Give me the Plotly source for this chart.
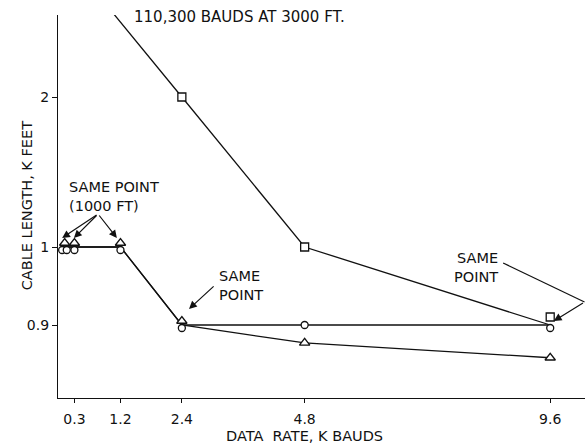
import numpy as np
import plotly.graph_objects as go

# ---------------- data ----------------
RATE_TICKS = [0.3, 1.2, 2.4, 4.8, 9.6]
RATE_TICK_TEXT = ["0.3", "1.2", "2.4", "4.8", "9.6"]
LEN_TICKS = [0.9, 1.0, 2.0]
LEN_TICK_TEXT = ["0.9", "1", "2"]

# square series (110, 300 bauds at 3000 ft, off the top of the chart)
sq_rate = [0.11, 0.3, 2.4, 4.8, 9.6]
sq_len = [3.0, 3.0, 2.0, 1.0, 0.9]
# circle series
ci_rate = [0.06, 0.15, 0.3, 1.2, 2.4, 4.8, 9.6]
ci_len = [1.0, 1.0, 1.0, 1.0, 0.9, 0.9, 0.9]
# triangle series
tr_rate = [0.11, 0.3, 1.2, 2.4, 4.8, 9.6]
tr_len = [1.0, 1.0, 1.0, 0.9, 0.877, 0.858]

# the chart's non-uniform cable-length scale (value -> axis position)
SCALE_VAL = [0.8, 0.9, 1.0, 2.0, 3.0]
SCALE_POS = [-5, 73, 151, 301, 432]


def ys(v):
    return np.interp(np.asarray(v, dtype=float), SCALE_VAL, SCALE_POS)


series = {
    "sq": (sq_rate, sq_len, "square", 8, 8),
    "ci": (ci_rate, ci_len, "circle", 7, -3),
    "tr": (tr_rate, tr_len, "triangle-up", 9, 4),
}


def coincident(key, x, y):
    for k, (xr, yr, *_rest) in series.items():
        if k == key:
            continue
        for xx, yy in zip(xr, yr):
            if abs(xx - x) <= 0.2 and abs(yy - y) < 1e-9:
                return True
    return False


fig = go.Figure()
BLACK = "#111111"
for key, (xr, yr, sym, size, off) in series.items():
    fig.add_trace(go.Scatter(x=xr, y=ys(yr), mode="lines",
                             line=dict(color=BLACK, width=1.3),
                             hoverinfo="skip", showlegend=False))
for key, (xr, yr, sym, size, off) in series.items():
    shifted = [ys(y) + (off if coincident(key, x, y) else 0) for x, y in zip(xr, yr)]
    fig.add_trace(go.Scatter(x=xr, y=shifted, mode="markers",
                             marker=dict(symbol=sym, size=size, color="white",
                                         line=dict(color=BLACK, width=1.3)),
                             showlegend=False))

FONT = "DejaVu Sans"
FS = 14.5
ann = []
ann.append(dict(x=1.42, y=381, xref="x", yref="y", text="110,300 BAUDS AT 3000 FT.",
                showarrow=False, xanchor="left", yanchor="middle",
                font=dict(size=15, family=FONT, color=BLACK)))
ann.append(dict(x=0.15, y=202, xref="x", yref="y", text="SAME POINT<br>(1000 FT)",
                showarrow=False, xanchor="left", yanchor="middle", align="left",
                font=dict(size=FS, family=FONT, color=BLACK)))
ann.append(dict(x=3.08, y=113, xref="x", yref="y", text="SAME<br>POINT",
                showarrow=False, xanchor="left", yanchor="middle", align="left",
                font=dict(size=FS, family=FONT, color=BLACK)))
ann.append(dict(x=8.62, y=131, xref="x", yref="y", text="SAME<br>POINT",
                showarrow=False, xanchor="right", yanchor="middle", align="right",
                font=dict(size=FS, family=FONT, color=BLACK)))

arrows = [
    ((0.762, 184), (0.06, 160)),
    ((0.762, 184), (0.29, 160)),
    ((0.762, 184), (1.13, 160)),
    ((3.05, 113), (2.54, 89)),
    ((10.27, 96), (9.67, 77)),
]
for (tx, ty), (hx, hy) in arrows:
    ann.append(dict(x=hx, y=hy, ax=tx, ay=ty, xref="x", yref="y", axref="x", ayref="y",
                    text="", showarrow=True, arrowhead=2, arrowsize=1.3,
                    arrowwidth=1.2, arrowcolor=BLACK, standoff=0))

ann.append(dict(x=0.468, y=-0.099, xref="paper", yref="paper", text="DATA  RATE, K BAUDS",
                showarrow=False, xanchor="center", yanchor="middle",
                font=dict(size=FS, family=FONT, color=BLACK)))
ann.append(dict(x=-0.059, y=0.503, xref="paper", yref="paper", text="CABLE LENGTH, K FEET",
                showarrow=False, xanchor="center", yanchor="middle", textangle=-90,
                font=dict(size=FS, family=FONT, color=BLACK)))

fig.add_shape(type="line", xref="x", yref="y", x0=8.68, y0=135, x1=10.27, y1=96,
              line=dict(color=BLACK, width=1.2))

fig.update_layout(
    width=585, height=445,
    margin=dict(l=58, r=0, t=15, b=47),
    paper_bgcolor="white", plot_bgcolor="white",
    font=dict(family=FONT, size=14, color=BLACK),
    annotations=ann,
    xaxis=dict(range=[-0.021, 10.28], tickvals=RATE_TICKS, ticktext=RATE_TICK_TEXT,
               showline=True, linecolor=BLACK, linewidth=1.3, ticks="outside",
               ticklen=4, tickcolor=BLACK, showgrid=False, zeroline=False,
               ticklabelstandoff=4, tickfont=dict(size=14, family=FONT)),
    yaxis=dict(range=[0, 383], tickvals=ys(LEN_TICKS), ticktext=LEN_TICK_TEXT,
               showline=True, linecolor=BLACK, linewidth=1.3, ticks="outside",
               ticklen=5, tickcolor=BLACK, showgrid=False, zeroline=False,
               tickfont=dict(size=14, family=FONT)),
)

fig.write_html("out.html", config={"displayModeBar": False},
               post_script="document.body.style.margin='0px';")
